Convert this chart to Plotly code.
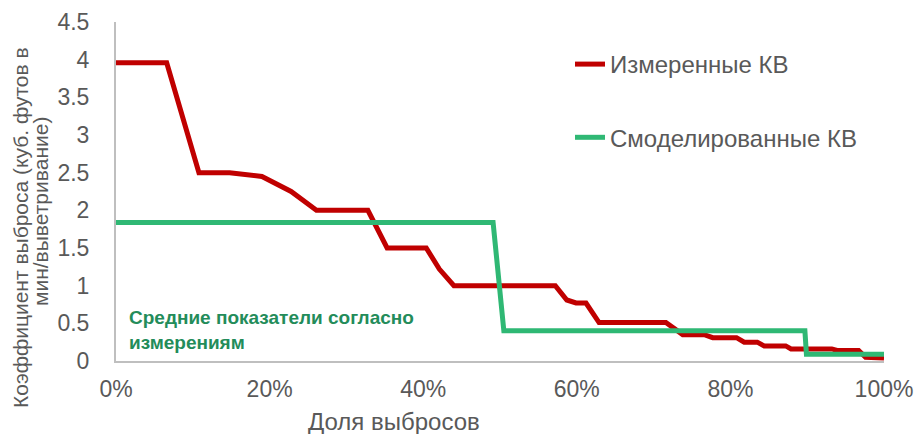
import plotly.graph_objects as go

# Data
measured_x = [0.0, 0.066, 0.108, 0.148, 0.19, 0.228, 0.261, 0.328, 0.353, 0.404, 0.421, 0.44,
              0.572, 0.587, 0.599, 0.612, 0.629, 0.716, 0.738, 0.766, 0.777, 0.808, 0.818,
              0.835, 0.844, 0.872, 0.879, 0.932, 0.939, 0.967, 0.976, 1.0]
measured_y = [3.96, 3.96, 2.5, 2.5, 2.45, 2.25, 2.0, 2.0, 1.5, 1.5, 1.22, 1.0,
              1.0, 0.81, 0.77, 0.77, 0.51, 0.51, 0.35, 0.35, 0.31, 0.31, 0.25,
              0.25, 0.2, 0.2, 0.16, 0.16, 0.14, 0.14, 0.05, 0.04]

modeled_x = [0.0, 0.491, 0.505, 0.897, 0.899, 1.0]
modeled_y = [1.84, 1.84, 0.40, 0.40, 0.09, 0.09]

series_names = ["Измеренные КВ", "Смоделированные КВ"]
x_title = "Доля выбросов"
y_title_lines = ["Коэффициент выброса (куб. футов в", "мин/выветривание)"]
note_text = "Средние показатели согласно<br>измерениям"

RED = "#C00000"
GREEN = "#2FB874"
GRAY_TXT = "#595959"
FONT = "Arial, Liberation Sans, sans-serif"

fig = go.Figure()
fig.add_trace(go.Scatter(x=measured_x, y=measured_y, mode="lines", name=series_names[0],
                         legendgroup="a",
                         line=dict(color=RED, width=5)))
fig.add_trace(go.Scatter(x=modeled_x, y=modeled_y, mode="lines", name=series_names[1],
                         legendgroup="b",
                         line=dict(color=GREEN, width=5)))

fig.update_layout(
    width=917, height=434,
    margin=dict(l=116, r=33, t=22, b=73, autoexpand=False),
    paper_bgcolor="white", plot_bgcolor="white",
    font=dict(family=FONT, color=GRAY_TXT),
    showlegend=True,
    legend=dict(x=(570 - 116) / 768, y=(361 - 42) / 339, xanchor="left", yanchor="top",
                font=dict(size=24, color=GRAY_TXT, family=FONT),
                tracegroupgap=39, bgcolor="rgba(0,0,0,0)"),
    xaxis=dict(range=[0, 1], tickformat=".0%", dtick=0.2, tick0=0,
               showgrid=False, zeroline=False, showline=True, linecolor="#BFBFBF",
               linewidth=2, ticks="", tickfont=dict(size=23, color=GRAY_TXT),
               ticklabelstandoff=6, automargin=False),
    yaxis=dict(range=[0, 4.5], dtick=0.5, tick0=0,
               showgrid=False, zeroline=False, showline=True, linecolor="#BFBFBF",
               linewidth=2, ticks="", tickfont=dict(size=23, color=GRAY_TXT),
               ticklabelstandoff=20, automargin=False),
)

# axis titles as annotations
fig.add_annotation(text=x_title, xref="paper", yref="paper",
                   x=(394 - 116) / 768, y=-(421 - 361) / 339,
                   showarrow=False, font=dict(size=24, color=GRAY_TXT, family=FONT),
                   xanchor="center", yanchor="middle")
fig.add_annotation(text=y_title_lines[0], xref="paper", yref="paper",
                   x=-(116 - 20) / 768, y=(361 - 228) / 339, textangle=-90,
                   showarrow=False, font=dict(size=21, color=GRAY_TXT, family=FONT),
                   xanchor="center", yanchor="middle")
fig.add_annotation(text=y_title_lines[1], xref="paper", yref="paper",
                   x=-(116 - 40) / 768, y=(361 - 212) / 339, textangle=-90,
                   showarrow=False, font=dict(size=21, color=GRAY_TXT, family=FONT),
                   xanchor="center", yanchor="middle")

fig.add_annotation(text="<b>" + note_text + "</b>", xref="paper", yref="paper",
                   x=(127 - 116) / 768, y=(361 - 330) / 339,
                   showarrow=False, align="left",
                   font=dict(size=19, color="#238C5A", family=FONT),
                   xanchor="left", yanchor="middle")

fig.write_html("out.html")
